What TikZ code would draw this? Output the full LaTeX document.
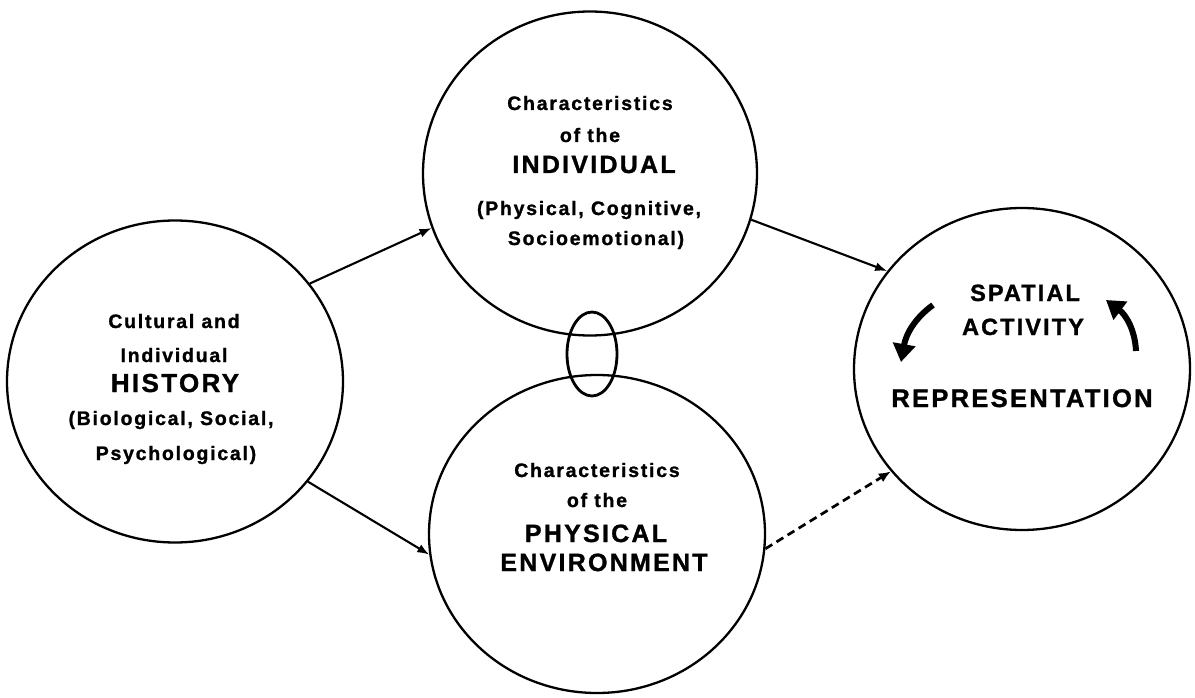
\documentclass[tikz,border=0pt]{standalone}
\usepackage{fontspec}
\setmainfont{Liberation Sans}
\newfontfamily\lab{Liberation Sans}[LetterSpace=9, FakeBold=1.2]
\usetikzlibrary{shapes.geometric,arrows.meta}
\tikzset{
  bub/.style={ellipse, draw, line width=2.3pt, inner sep=0pt, minimum width=336pt, minimum height=322pt},
  sm/.style={anchor=base, inner sep=0pt, font=\lab\bfseries\fontsize{19.5}{22}\selectfont},
  lg/.style={anchor=base, inner sep=0pt, font=\lab\bfseries\fontsize{25}{28}\selectfont},
  conn/.style={line width=2.1pt, -{Latex[length=12pt,width=9pt]}},
  dconn/.style={line width=2.7pt, dash pattern=on 8pt off 5pt, -{Latex[length=12pt,width=10pt]}},
  cyc/.style={line width=6pt, -{Triangle[length=18pt,width=22pt]}}
}
\begin{document}
\begin{tikzpicture}[x=1pt,y=-1pt]
\useasboundingbox (0,0) rectangle (1195,698);
% circles
\node[bub] (L) at (175,381.5) {};
\node[bub, minimum width=334pt, minimum height=324pt] (T) at (590,173.5) {};
\node[bub, minimum height=318pt] (B) at (597,534) {};
\node[bub] (R) at (1022,369) {};
% link ellipse
\node[ellipse, draw, line width=2.8pt, inner sep=0pt, minimum width=50pt, minimum height=84pt] (E) at (592,354) {};
% text left
\node[sm] (l1) at (174,328) {Cultural and};
\node[sm] (l2) at (174,362) {Individual};
\node[lg, font=\lab\bfseries\fontsize{26}{28}\selectfont] (l3) at (175,392) {HISTORY};
\node[sm] (l4) at (171,425) {(Biological, Social,};
\node[sm] (l5) at (176,460) {Psychological)};
% text top
\node[sm] (t1) at (590,110) {Characteristics};
\node[sm] (t2) at (590,142) {of the};
\node[lg] (t3) at (594,173) {INDIVIDUAL};
\node[sm] (t4) at (589,215) {(Physical, Cognitive,};
\node[sm] (t5) at (596,245) {Socioemotional)};
% text bottom
\node[sm] (b1) at (597,477) {Characteristics};
\node[sm] (b2) at (597,507) {of the};
\node[lg] (b3) at (596,542) {PHYSICAL};
\node[lg] (b4) at (604,571) {ENVIRONMENT};
% text right
\node[lg, font=\lab\bfseries\fontsize{23.5}{26}\selectfont] (r1) at (1025,301) {SPATIAL};
\node[lg, font=\lab\bfseries\fontsize{23.5}{26}\selectfont] (r2) at (1023,335) {ACTIVITY};
\node[lg, font=\lab\bfseries\fontsize{25.5}{28}\selectfont] (r3) at (1022,407) {REPRESENTATION};
% connectors
\draw[conn] (L.36.2) -- (T.199.1);
\draw[conn] (L.-37.3) -- (B.187.5);
\draw[conn] (T.-16) -- (R.144.6);
\draw[dconn] (B.-5.5) -- (R.218.9);
% cycle arrows
\coordinate (c1s) at (933,305);
\coordinate (c1e) at (901,362);
\coordinate (c2s) at (1136,351);
\coordinate (c2e) at (1106,300);
\draw[cyc] (c1s) .. controls (915,318) and (906,334) .. (c1e);
\draw[cyc] (c2s) .. controls (1135,330) and (1126,315) .. (c2e);
\end{tikzpicture}
\end{document}
